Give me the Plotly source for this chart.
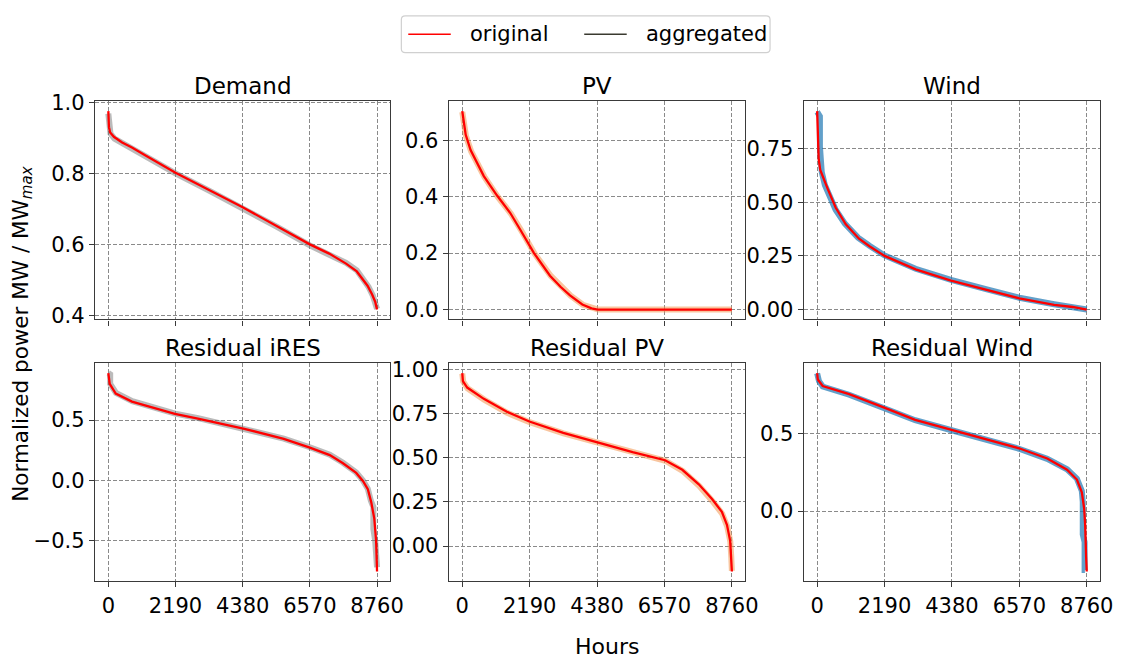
import plotly.graph_objects as go

# ---- duration curves (hours sorted by descending power, normalized) ----
hours_ticks = [0, 2190, 4380, 6570, 8760]

demand_h = [0, 20, 60, 180, 450, 770, 1200, 2190, 3300, 4380, 5500, 6570, 7200, 7750, 8100, 8300, 8450, 8600, 8700, 8759]
demand_orig = [0.975, 0.93, 0.915, 0.903, 0.887, 0.873, 0.851, 0.802, 0.753, 0.705, 0.652, 0.601, 0.575, 0.547, 0.525, 0.502, 0.485, 0.460, 0.440, 0.418]
demand_agg_h = [0, 30, 70, 200, 480, 800, 1250, 2190, 3300, 4380, 5500, 6570, 7200, 7750, 8100, 8300, 8480, 8620, 8720, 8760]
demand_agg = [0.968, 0.925, 0.912, 0.898, 0.884, 0.87, 0.849, 0.80, 0.751, 0.703, 0.65, 0.598, 0.574, 0.549, 0.528, 0.505, 0.482, 0.458, 0.437, 0.42]

pv_h = [0, 50, 110, 270, 700, 1130, 1560, 1900, 2330, 2850, 3200, 3500, 3900, 4200, 4400, 8760]
pv_orig = [0.703, 0.66, 0.62, 0.565, 0.473, 0.404, 0.342, 0.28, 0.2, 0.12, 0.08, 0.05, 0.018, 0.004, 0.0, 0.0]
pv_agg_h = [0, 60, 120, 290, 720, 1150, 1580, 1920, 2350, 2870, 3220, 3520, 3920, 4220, 4420, 8760]
pv_agg = [0.70, 0.655, 0.615, 0.56, 0.47, 0.40, 0.34, 0.279, 0.198, 0.12, 0.08, 0.049, 0.017, 0.004, 0.0, 0.0]

wind_h = [0, 10, 25, 50, 100, 200, 350, 600, 930, 1360, 1700, 2190, 3200, 4350, 5550, 6570, 7700, 8300, 8760]
wind_orig = [0.924, 0.85, 0.76, 0.70, 0.65, 0.61, 0.56, 0.475, 0.397, 0.33, 0.295, 0.25, 0.187, 0.135, 0.09, 0.052, 0.022, 0.012, 0.0]
wind_agg_h = [0, 90, 90, 150, 250, 380, 600, 900, 1330, 1700, 2190, 3200, 4350, 5550, 6570, 7700, 8300, 8760]
wind_agg = [0.92, 0.90, 0.76, 0.64, 0.58, 0.53, 0.465, 0.40, 0.335, 0.297, 0.252, 0.19, 0.138, 0.093, 0.055, 0.025, 0.014, 0.0]

res_ires_h = [0, 20, 45, 240, 770, 1310, 2170, 2920, 4400, 5720, 6570, 7220, 7650, 8080, 8300, 8460, 8570, 8670, 8730, 8760]
res_ires_orig = [0.89, 0.84, 0.80, 0.72, 0.653, 0.613, 0.551, 0.513, 0.43, 0.344, 0.272, 0.21, 0.142, 0.062, -0.005, -0.073, -0.18, -0.315, -0.50, -0.755]
res_ires_agg_h = [0, 60, 60, 250, 780, 1320, 2180, 2930, 4400, 5720, 6570, 7220, 7650, 8080, 8300, 8460, 8560, 8640, 8640, 8700, 8760]
res_ires_agg = [0.89, 0.88, 0.80, 0.725, 0.657, 0.616, 0.554, 0.516, 0.433, 0.347, 0.275, 0.213, 0.146, 0.066, 0.0, -0.07, -0.17, -0.22, -0.40, -0.5, -0.72]

res_pv_h = [0, 21, 160, 700, 1450, 2180, 3280, 4385, 5535, 6590, 7150, 7685, 8115, 8435, 8600, 8705, 8738, 8760]
res_pv_orig = [0.978, 0.932, 0.896, 0.832, 0.759, 0.704, 0.640, 0.586, 0.531, 0.485, 0.431, 0.349, 0.266, 0.193, 0.120, 0.029, -0.062, -0.144]
res_pv_agg_h = [0, 30, 170, 710, 1460, 2190, 3290, 4395, 5545, 6600, 7160, 7695, 8125, 8445, 8610, 8710, 8740, 8760]
res_pv_agg = [0.975, 0.93, 0.892, 0.828, 0.753, 0.70, 0.637, 0.583, 0.529, 0.482, 0.425, 0.34, 0.255, 0.183, 0.11, 0.025, -0.06, -0.14]

res_wind_h = [0, 21, 180, 500, 1040, 2180, 3185, 4340, 5330, 6560, 7475, 8120, 8440, 8600, 8676, 8708, 8740, 8760]
res_wind_orig = [0.892, 0.85, 0.808, 0.788, 0.756, 0.669, 0.59, 0.527, 0.475, 0.406, 0.34, 0.267, 0.204, 0.121, 0.017, -0.0875, -0.296, -0.39]
res_wind_agg_h = [0, 60, 180, 500, 1040, 2180, 3185, 4340, 5330, 6560, 7475, 8120, 8440, 8600, 8630, 8630, 8690, 8690, 8700]
res_wind_agg = [0.89, 0.84, 0.805, 0.786, 0.752, 0.665, 0.587, 0.524, 0.472, 0.403, 0.338, 0.27, 0.21, 0.13, 0.06, -0.15, -0.2, -0.38, -0.38]

titles = ["Demand", "PV", "Wind", "Residual iRES", "Residual PV", "Residual Wind"]

GRAY = "rgba(120,120,120,0.5)"
ORANGE = "rgba(242,150,80,0.55)"
BLUE = "rgba(31,119,180,0.7)"

panels = [
    (demand_h, demand_orig, demand_agg_h, demand_agg, GRAY, [0.4, 0.6, 0.8, 1.0], "{:.1f}"),
    (pv_h, pv_orig, pv_agg_h, pv_agg, ORANGE, [0.0, 0.2, 0.4, 0.6], "{:.1f}"),
    (wind_h, wind_orig, wind_agg_h, wind_agg, BLUE, [0.0, 0.25, 0.5, 0.75], "{:.2f}"),
    (res_ires_h, res_ires_orig, res_ires_agg_h, res_ires_agg, GRAY, [-0.5, 0.0, 0.5], "{:.1f}"),
    (res_pv_h, res_pv_orig, res_pv_agg_h, res_pv_agg, ORANGE, [0.0, 0.25, 0.5, 0.75, 1.0], "{:.2f}"),
    (res_wind_h, res_wind_orig, res_wind_agg_h, res_wind_agg, BLUE, [0.0, 0.5], "{:.1f}"),
]

W, H = 1133, 668
col_px = [(96, 395), (454, 754), (813, 1113)]
row_px = [(93, 318), (363, 588)]

FONT = "DejaVu Sans"
SPINE = "#3a3a3a"
TICK_SIZE = 21

fig = go.Figure()
layout = dict(
    width=W, height=H,
    margin=dict(l=0, r=0, t=0, b=0),
    paper_bgcolor="white", plot_bgcolor="white",
    font=dict(family=FONT, size=20, color="black"),
    showlegend=False,
    annotations=[],
    shapes=[],
)


def px(x):
    return x / W


def py(y):
    return 1 - y / H


x_pad = 0.05 * 8760
for i, (hx, yo, hax, ya, acol, yticks, fmt) in enumerate(panels):
    r, c = divmod(i, 3)
    n = i + 1
    xa = "x" if n == 1 else f"x{n}"
    ya_ref = "y" if n == 1 else f"y{n}"

    fig.add_trace(go.Scatter(x=hax, y=ya, mode="lines", line=dict(color=acol, width=6),
                             xaxis=xa, yaxis=ya_ref, name="aggregated", hoverinfo="skip"))
    fig.add_trace(go.Scatter(x=hx, y=yo, mode="lines", line=dict(color="#ff0000", width=2.3),
                             xaxis=xa, yaxis=ya_ref, name="original"))

    lo = min(min(yo), min(ya))
    hi = max(max(yo), max(ya))
    pad = 0.05 * (hi - lo)

    x0, x1 = col_px[c]
    y0, y1 = row_px[r]
    common = dict(showline=True, linecolor=SPINE, linewidth=1.2, mirror=True,
                  ticks="outside", ticklen=5, tickwidth=1.2, tickcolor=SPINE,
                  showgrid=True, gridcolor="#8a8a8a", gridwidth=1, griddash="4px,2px",
                  zeroline=False, tickfont=dict(size=TICK_SIZE, family=FONT, color="black"))
    layout["xaxis" if n == 1 else f"xaxis{n}"] = dict(
        domain=[px(x0), px(x1)], anchor=ya_ref, range=[-x_pad, 8760 + x_pad],
        tickvals=hours_ticks, ticktext=[str(t) for t in hours_ticks],
        showticklabels=(r == 1), **common)
    layout["yaxis" if n == 1 else f"yaxis{n}"] = dict(
        domain=[py(y1), py(y0)], anchor=xa, range=[lo - pad, hi + pad],
        tickvals=yticks, ticktext=[fmt.format(t).replace("-", "\u2212") for t in yticks],
        **common)

    layout["annotations"].append(dict(
        text=titles[i], x=px((x0 + x1) / 2), y=py(y0 - 16), xref="paper", yref="paper",
        xanchor="center", yanchor="middle", showarrow=False, font=dict(size=23, family=FONT)))

layout["annotations"].append(dict(
    text="Hours", x=px(614), y=py(655), xref="paper", yref="paper",
    xanchor="center", yanchor="middle", showarrow=False, font=dict(size=22, family=FONT)))
layout["annotations"].append(dict(
    text="Normalized power MW / MW<sub><i>max</i></sub>", x=px(22), y=py(333),
    xref="paper", yref="paper", xanchor="center", yanchor="middle", textangle=-90,
    showarrow=False, font=dict(size=21.5, family=FONT)))

# ---- legend box drawn in paper space ----
lx0, lx1, ly0, ly1, rad = 406, 779, 5, 43, 4
path = (f"M {px(lx0 + rad)} {py(ly0)} L {px(lx1 - rad)} {py(ly0)} "
        f"Q {px(lx1)} {py(ly0)} {px(lx1)} {py(ly0 + rad)} L {px(lx1)} {py(ly1 - rad)} "
        f"Q {px(lx1)} {py(ly1)} {px(lx1 - rad)} {py(ly1)} L {px(lx0 + rad)} {py(ly1)} "
        f"Q {px(lx0)} {py(ly1)} {px(lx0)} {py(ly1 - rad)} L {px(lx0)} {py(ly0 + rad)} "
        f"Q {px(lx0)} {py(ly0)} {px(lx0 + rad)} {py(ly0)} Z")
layout["shapes"].append(dict(type="path", path=path, xref="paper", yref="paper",
                             line=dict(color="#d0d0d0", width=1.2), fillcolor="white"))
legend_items = [("original", "#ff0000", 413, 456, 473), ("aggregated", "#3a3a30", 591, 634, 651)]
for label, color, sx0, sx1, tx in legend_items:
    layout["shapes"].append(dict(type="line", xref="paper", yref="paper",
                                 x0=px(sx0), x1=px(sx1), y0=py(24), y1=py(24),
                                 line=dict(color=color, width=1.6)))
    layout["annotations"].append(dict(
        text=label, x=px(tx), y=py(24), xref="paper", yref="paper",
        xanchor="left", yanchor="middle", showarrow=False, font=dict(size=21, family=FONT)))

fig.update_layout(**layout)
fig.write_html("out.html")
